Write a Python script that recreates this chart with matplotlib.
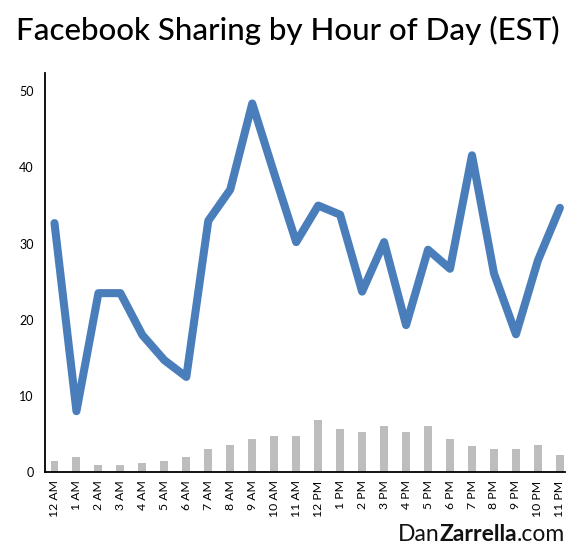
import matplotlib
matplotlib.use('Agg')
import matplotlib.pyplot as plt

# hours of the day
hours = ['12 AM', '1 AM', '2 AM', '3 AM', '4 AM', '5 AM', '6 AM', '7 AM', '8 AM', '9 AM',
         '10 AM', '11 AM', '12 PM', '1 PM', '2 PM', '3 PM', '4 PM', '5 PM', '6 PM', '7 PM',
         '8 PM', '9 PM', '10 PM', '11 PM']

# sharing per hour (line)
shares = [32.7, 8.0, 23.5, 23.5, 18.0, 14.7, 12.5, 33.0, 37.1, 48.4, 39.2, 30.2,
          35.0, 33.8, 23.7, 30.2, 19.3, 29.2, 26.7, 41.6, 26.1, 18.1, 27.8, 34.7]

# volume per hour (grey bars)
volume = [1.5, 2.0, 1.0, 1.0, 1.15, 1.5, 2.0, 3.0, 3.6, 4.3, 4.7, 4.7,
          6.8, 5.6, 5.3, 6.0, 5.3, 6.0, 4.4, 3.4, 3.0, 3.0, 3.5, 2.2]

y_ticks = [0, 10, 20, 30, 40, 50]

plt.rcParams['font.family'] = ['Lato', 'DejaVu Sans']

fig = plt.figure(figsize=(5.75, 5.49), dpi=100)
ax = fig.add_axes([0.0783, 0.140, 0.905, 0.727])

x = list(range(len(hours)))
ax.bar(x, volume, width=0.36, color='#bdbdbd', zorder=1)
ax.plot(x, shares, color='#4a7ebb', linewidth=5.8, solid_capstyle='round',
        solid_joinstyle='round', zorder=2)

ax.set_xlim(-0.43, 23.25)
ax.set_ylim(0, 52.4)
ax.set_yticks(y_ticks)
ax.set_yticklabels([str(v) for v in y_ticks], fontsize=9)
ax.set_xticks(x)
ax.set_xticklabels(hours, rotation=90, fontsize=8.8)
ax.tick_params(length=0, pad=6)
ax.tick_params(axis='y', pad=8)

for s in ['top', 'right']:
    ax.spines[s].set_visible(False)
for s in ['left', 'bottom']:
    ax.spines[s].set_linewidth(1.3)

fig.text(0.5, 0.945, 'Facebook Sharing by Hour of Day (EST)', ha='center', va='center',
         fontsize=22.5, fontweight='medium')

# watermark: DanZarrella.com with mixed weights
fig.canvas.draw()
r = fig.canvas.get_renderer()
xr = 565 / 575
yb = 1 - 541 / 549
parts = [('.com', 'normal'), ('Zarrella', 'bold'), ('Dan', 'normal')]
for txt, w in parts:
    t = fig.text(xr, yb, txt, ha='right', va='baseline', fontsize=16.5, fontweight=w,
                 color='#111111')
    bb = t.get_window_extent(renderer=r)
    xr -= bb.width / fig.bbox.width

fig.savefig('out.png', dpi=100)
